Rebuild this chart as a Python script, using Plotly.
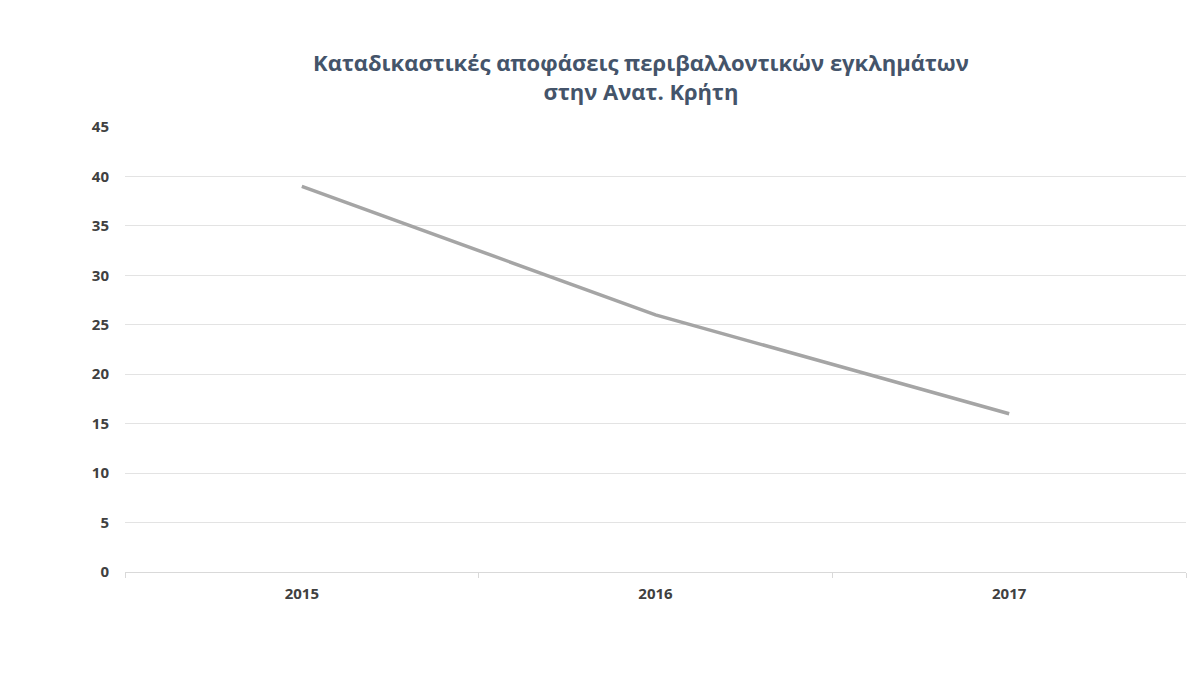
import plotly.graph_objects as go

years = ["2015", "2016", "2017"]
convictions = [39, 26, 16]

y_ticks = [0, 5, 10, 15, 20, 25, 30, 35, 40, 45]

fig = go.Figure(
    data=[
        go.Scatter(
            x=years,
            y=convictions,
            mode="lines",
            line=dict(color="#A5A5A5", width=3.5),
            hoverinfo="x+y",
        )
    ]
)

fig.update_layout(
    width=1200,
    height=675,
    paper_bgcolor="white",
    plot_bgcolor="white",
    showlegend=False,
    margin=dict(l=117, r=22, t=119, b=111),
    title=dict(
        text="Καταδικαστικές αποφάσεις περιβαλλοντικών εγκλημάτων<br>στην Ανατ. Κρήτη",
        x=633 / 1200,
        xref="container",
        xanchor="center",
        y=1 - 63 / 675,
        yanchor="middle",
        font=dict(family="Open Sans", size=22, color="#44546A", weight="bold"),
    ),
    font=dict(family="Open Sans", color="#404040"),
)

fig.update_xaxes(
    type="category",
    range=[-0.5, 2.5],
    tickson="boundaries",
    ticks="outside",
    ticklen=5,
    tickcolor="#D9D9D9",
    showline=True,
    linecolor="#D9D9D9",
    linewidth=1,
    showgrid=False,
    ticklabelstandoff=8,
    tickfont=dict(family="Open Sans", size=15, color="#404040", weight="bold"),
)

fig.update_yaxes(
    range=[0, 45],
    tickvals=y_ticks,
    showgrid=True,
    gridcolor="#E3E3E3",
    gridwidth=1,
    zeroline=False,
    showline=False,
    ticks="",
    ticklabelstandoff=15,
    tickfont=dict(family="Open Sans", size=15, color="#404040", weight="bold"),
)

fig.write_html("out.html")
